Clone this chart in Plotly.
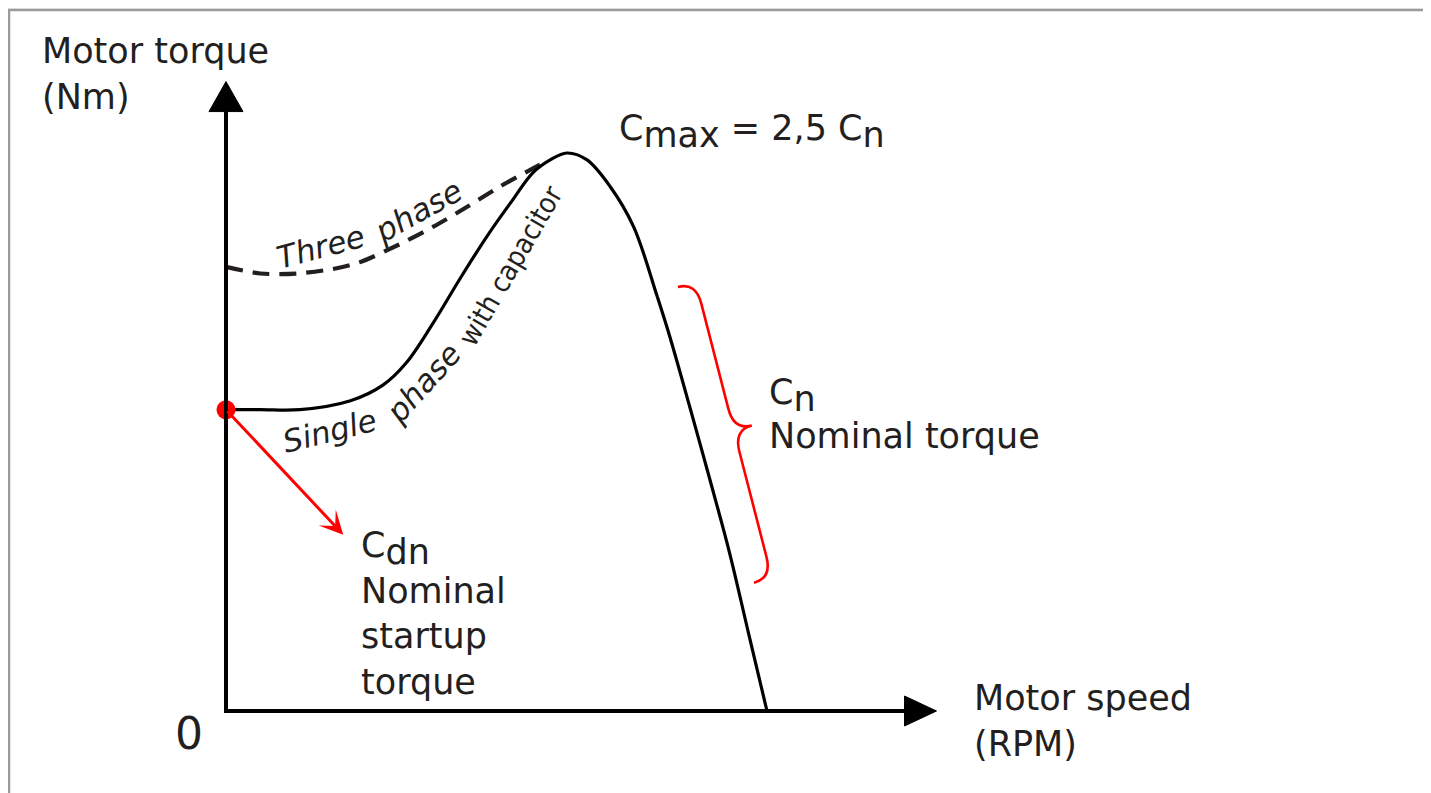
import math
import plotly.graph_objects as go

# ---------------- data ----------------
# speed in rpm (synchronous speed 1500 rpm), torque in Nm (Cn = 10 Nm, Cmax = 2.5 Cn)
speed_single = [0, 95, 205, 345, 435, 500, 575, 650, 725, 795, 850, 900, 945,
                1000, 1065, 1130, 1195, 1230, 1288, 1342, 1396, 1450, 1500]
torque_single = [13.5, 13.5, 13.5, 13.9, 14.6, 15.6, 17.4, 19.4, 21.3, 22.9, 24.1, 24.7, 25.0,
                 24.7, 23.5, 21.7, 18.6, 16.8, 13.5, 10.35, 7.1, 3.4, 0.0]

speed_three = [0, 95, 195, 295, 370, 480, 575, 670, 760, 850, 895]
torque_three = [19.9, 19.6, 19.6, 19.8, 20.1, 20.9, 21.7, 22.6, 23.5, 24.3, 24.7]

startup_speed = [0]
startup_torque = [13.5]
startup_arrow_tip = [325, 7.9]          # speed, torque

nominal_brace_top = [1253, 19.0]        # speed, torque
nominal_brace_bottom = [1464, 5.75]

axis_speed_max = 1970   # x-axis arrow tip
axis_torque_max = 28.2  # y-axis arrow tip

# ---------------- layout geometry ----------------
W, H = 1431, 793
OFF = 8                    # page body margin
OX, OY = 226 - OFF, 711 - OFF   # figure pixel of the origin
KX = 541 / 1500            # px per rpm
KY = 558 / 25              # px per Nm

x_range = [-OX / KX, (W - OX) / KX]
y_range = [-(H - OY) / KY, OY / KY]


def d2p(x, y):
    """data -> page pixel"""
    return OX + x * KX + OFF, OY - y * KY + OFF


def p2d(px, py):
    """page pixel -> data"""
    return (px - OFF - OX) / KX, (OY - (py - OFF)) / KY


TXT = "#231f20"
FONT = "DejaVu Sans, Liberation Sans, Arial, sans-serif"
FS = 35

fig = go.Figure()

# three phase (dashed)
fig.add_trace(go.Scatter(x=speed_three, y=torque_three, mode="lines",
                         line=dict(color="#231f20", width=4.2, dash="17px,10px",
                                   shape="spline", smoothing=0.8),
                         hoverinfo="skip"))
# single phase with capacitor
fig.add_trace(go.Scatter(x=speed_single, y=torque_single, mode="lines",
                         line=dict(color="black", width=3.2, shape="spline", smoothing=1.0),
                         hoverinfo="skip"))
# start point
fig.add_trace(go.Scatter(x=startup_speed, y=startup_torque, mode="markers",
                         marker=dict(color="#ff0000", size=19), hoverinfo="skip"))

shapes = []
# frame
shapes.append(dict(type="rect", xref="paper", yref="paper",
                   x0=1 / W, x1=(1425 - OFF) / W, y0=-0.05, y1=1 - (10 - OFF) / H,
                   fillcolor="white", line=dict(color="#9b9b9b", width=2.5), layer="below"))

# axes lines
tipx_px, tipy_px = d2p(0, axis_torque_max)
ybase_px = tipy_px + 30
_, ybase = p2d(0, ybase_px)
xtip_px, xtip_py = d2p(axis_speed_max, 0)
xbase_px = xtip_px - 32
xbase, _ = p2d(xbase_px, 0)
_, y_below = p2d(0, d2p(0, 0)[1] + 2)
x_left, _ = p2d(d2p(0, 0)[0] - 2, 0)
shapes.append(dict(type="line", xref="x", yref="y", x0=0, y0=y_below, x1=0, y1=ybase,
                   line=dict(color="black", width=4)))
shapes.append(dict(type="line", xref="x", yref="y", x0=x_left, y0=0, x1=xbase, y1=0,
                   line=dict(color="black", width=4)))


def path_from_px(pts, close=True):
    s = ""
    for i, (px, py) in enumerate(pts):
        x, y = p2d(px, py)
        s += ("M" if i == 0 else "L") + f"{x:.3f},{y:.3f}"
    return s + ("Z" if close else "")


# arrowheads
shapes.append(dict(type="path", xref="x", yref="y",
                   path=path_from_px([(tipx_px, tipy_px), (tipx_px - 17, ybase_px),
                                      (tipx_px + 17, ybase_px)]),
                   fillcolor="black", line=dict(color="black", width=1)))
shapes.append(dict(type="path", xref="x", yref="y",
                   path=path_from_px([(xtip_px, xtip_py), (xbase_px, xtip_py - 15),
                                      (xbase_px, xtip_py + 15)]),
                   fillcolor="black", line=dict(color="black", width=1)))

# red brace
p0 = d2p(*nominal_brace_top)
p1 = d2p(*nominal_brace_bottom)
L = math.hypot(p1[0] - p0[0], p1[1] - p0[1])
u = ((p1[0] - p0[0]) / L, (p1[1] - p0[1]) / L)
n = (-u[1], u[0]) if -u[1] > 0 else (u[1], -u[0])
wbr, r = 37, 22


def loc(s, t):
    px = p0[0] + s * u[0] + t * n[0]
    py = p0[1] + s * u[1] + t * n[1]
    x, y = p2d(px, py)
    return f"{x:.3f},{y:.3f}"


bp = ("M" + loc(0, 0) + "Q" + loc(0, wbr / 2) + " " + loc(r, wbr / 2)
      + "L" + loc(L / 2 - r, wbr / 2) + "Q" + loc(L / 2, wbr / 2) + " " + loc(L / 2, wbr)
      + "Q" + loc(L / 2, wbr / 2) + " " + loc(L / 2 + r, wbr / 2)
      + "L" + loc(L - r, wbr / 2) + "Q" + loc(L, wbr / 2) + " " + loc(L, 0))
shapes.append(dict(type="path", xref="x", yref="y", path=bp,
                   line=dict(color="#ff0000", width=2.6)))

ann = []


def label(text, px, py, size=FS, xanchor="left", angle=0, italic=False, fam=FONT):
    x, y = p2d(px, py)
    txt = f"<i>{text}</i>" if italic else text
    ann.append(dict(text=txt, x=x, y=y, xref="x", yref="y", showarrow=False,
                    xanchor=xanchor, yanchor="middle", textangle=angle,
                    font=dict(family=fam, size=size, color=TXT), align="left"))


SUB = "<sub><span style='font-size:" + str(FS) + "px'>{}</span></sub>"

label("Motor torque<br>(Nm)", 40, 74)
label("0", 189, 733, size=44, xanchor="center")
label("Motor speed<br>(RPM)", 972, 721)
label("C" + SUB.format("max") + " = 2,5 C" + SUB.format("n"), 617, 131)
label("C" + SUB.format("n"), 767, 395)
label("Nominal torque", 767, 436)
label("C" + SUB.format("dn") + "<br>Nominal<br>startup<br>torque", 359, 613)

# curve labels
label("Three", 320, 247, size=31, xanchor="center", angle=-15, italic=True)
label("phase", 418, 211, size=31, xanchor="center", angle=-29, italic=True)
label("Single", 329, 431, size=31, xanchor="center", angle=-14, italic=True)
label("phase", 423, 383, size=31, xanchor="center", angle=-48, italic=True)
label("with capacitor", 510, 266, size=28, xanchor="center", angle=-60,
      fam="DejaVu Sans Condensed, Liberation Sans Narrow, Liberation Sans, Arial, sans-serif")

# red arrow
ann.append(dict(x=startup_arrow_tip[0], y=startup_arrow_tip[1], ax=startup_speed[0],
                ay=startup_torque[0], xref="x", yref="y", axref="x", ayref="y",
                text="", showarrow=True, arrowhead=3, arrowsize=1.3, arrowwidth=3,
                arrowcolor="#ff0000", standoff=0, startstandoff=0))

fig.update_layout(
    width=W, height=H, margin=dict(l=0, r=0, t=0, b=0),
    paper_bgcolor="#f5f1ea", plot_bgcolor="rgba(0,0,0,0)",
    showlegend=False,
    xaxis=dict(range=x_range, visible=False, fixedrange=True),
    yaxis=dict(range=y_range, visible=False, fixedrange=True),
    shapes=shapes, annotations=ann,
)

fig.write_html("out.html")
